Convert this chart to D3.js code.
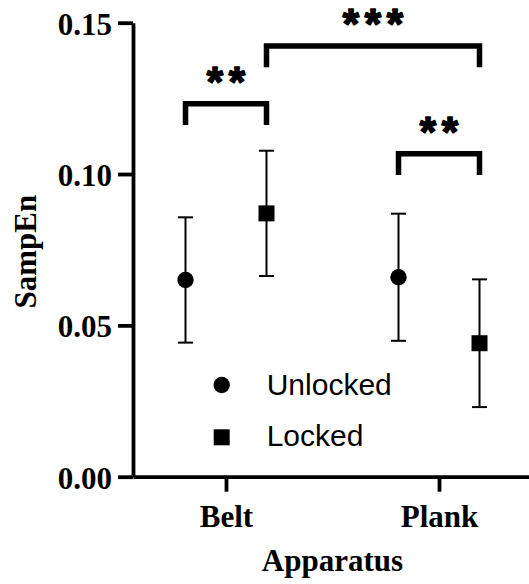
<!DOCTYPE html>
<html>
<head>
<meta charset="utf-8">
<script src="https://cdn.jsdelivr.net/npm/d3@7"></script>
<style>
  html, body { margin: 0; padding: 0; background: #fff; }
  svg { display: block; }
</style>
</head>
<body>
<svg id="chart" width="529" height="584"></svg>
<script>
// Sample entropy by apparatus, mean ± error for each condition
const categories = ["Belt", "Plank"];
const series = ["Unlocked", "Locked"];
const unlockedMean = [0.0650, 0.0659];
const unlockedErr = [0.0207, 0.0210];
const lockedMean = [0.0870, 0.0441];
const lockedErr = [0.0207, 0.0211];
const yTicks = [0.00, 0.05, 0.10, 0.15];

// Significance comparisons: [category, series] pairs, bracket level (SampEn units), label
const compFrom = [["Belt", "Unlocked"], ["Belt", "Locked"], ["Plank", "Unlocked"]];
const compTo = [["Belt", "Locked"], ["Plank", "Locked"], ["Plank", "Locked"]];
const compLevel = [0.1232, 0.1423, 0.1067];
const compLabel = ["**", "***", "**"];

const svg = d3.select("#chart");
const serif = "'Liberation Serif', 'Times New Roman', serif";
const sans = "'Liberation Sans', Arial, Helvetica, sans-serif";

const y = d3.scaleLinear().domain([0, 0.15]).range([476.7, 22.7]);
const x = d3.scalePoint().domain(categories).range([133, 532]).padding(0.4366);
const dx = d3.scalePoint().domain(series).range([-40.5, 40.5]);

const rows = [];
categories.forEach((c, i) => {
  rows.push({ cat: c, s: "Unlocked", mean: unlockedMean[i], err: unlockedErr[i] });
  rows.push({ cat: c, s: "Locked", mean: lockedMean[i], err: lockedErr[i] });
});
const px = (c, s) => x(c) + dx(s);

// Axes
const yAxis = svg.append("g")
  .attr("transform", `translate(${x.range()[0]},0)`)
  .call(d3.axisLeft(y).tickValues(yTicks).tickFormat(d3.format(".2f"))
    .tickSize(15).tickSizeOuter(0).tickPadding(6));

const xAxis = svg.append("g")
  .attr("transform", `translate(0,${y(0)})`)
  .call(d3.axisBottom(x).tickSize(15).tickSizeOuter(0).tickPadding(13));

[yAxis, xAxis].forEach(g => {
  g.select(".domain").attr("stroke", "#000").attr("stroke-width", 3.8);
  g.selectAll(".tick line").attr("stroke", "#000").attr("stroke-width", 3.8);
  g.selectAll(".tick text")
    .attr("font-family", serif).attr("font-weight", "bold")
    .attr("font-size", 31).attr("fill", "#000");
});
yAxis.selectAll(".tick text").attr("dy", "0.37em");

// Axis titles
svg.append("text")
  .attr("x", (x.range()[0] + x.range()[1]) / 2).attr("y", 571)
  .attr("text-anchor", "middle")
  .attr("font-family", serif).attr("font-weight", "bold").attr("font-size", 31)
  .text("Apparatus");

svg.append("text")
  .attr("transform", `translate(36,${(y(0) + y(0.15)) / 2 + 2}) rotate(-90)`)
  .attr("text-anchor", "middle")
  .attr("font-family", serif).attr("font-weight", "bold").attr("font-size", 31)
  .text("SampEn");

// Error bars
const eb = svg.append("g").attr("stroke", "#000").attr("stroke-width", 2);
rows.forEach(r => {
  const cx = px(r.cat, r.s);
  eb.append("line").attr("x1", cx).attr("x2", cx)
    .attr("y1", y(r.mean + r.err)).attr("y2", y(r.mean - r.err));
  [r.mean + r.err, r.mean - r.err].forEach(v => {
    eb.append("line").attr("x1", cx - 7.5).attr("x2", cx + 7.5)
      .attr("y1", y(v)).attr("y2", y(v));
  });
});

// Markers
const markerShape = { Unlocked: d3.symbolCircle, Locked: d3.symbolSquare };
const markerArea = { Unlocked: Math.PI * 8.2 * 8.2, Locked: 16 * 16 };
svg.append("g").selectAll("path").data(rows).join("path")
  .attr("transform", d => `translate(${px(d.cat, d.s)},${y(d.mean)})`)
  .attr("d", d => d3.symbol(markerShape[d.s], markerArea[d.s])())
  .attr("fill", "#000");

// Significance brackets
const legLen = 21.3;
compLabel.forEach((lab, i) => {
  const x1 = px(...compFrom[i]), x2 = px(...compTo[i]);
  const yt = y(compLevel[i]);
  svg.append("path")
    .attr("d", `M${x1},${yt + legLen}V${yt}H${x2}V${yt + legLen}`)
    .attr("fill", "none").attr("stroke", "#000").attr("stroke-width", 5.5)
    .attr("stroke-linejoin", "miter");
  const mid = (x1 + x2) / 2;
  const n = lab.length, gap = 22;
  for (let k = 0; k < n; k++) {
    svg.append("text")
      .attr("x", mid + (k - (n - 1) / 2) * gap)
      .attr("y", yt - 8)
      .attr("text-anchor", "middle")
      .attr("font-family", sans).attr("font-weight", "bold").attr("font-size", 42)
      .attr("stroke", "#000").attr("stroke-width", 1.6).attr("stroke-linejoin", "round")
      .text(lab[k]);
  }
});

// Legend
const legend = svg.append("g");
series.forEach((s, i) => {
  const ly = [385, 437.3][i];
  legend.append("path")
    .attr("transform", `translate(221.7,${ly})`)
    .attr("d", d3.symbol(markerShape[s], markerArea[s])())
    .attr("fill", "#000");
  legend.append("text")
    .attr("x", 266.7).attr("y", [395, 446][i])
    .attr("font-family", sans).attr("font-size", 30).attr("fill", "#000")
    .text(s);
});
</script>
</body>
</html>
